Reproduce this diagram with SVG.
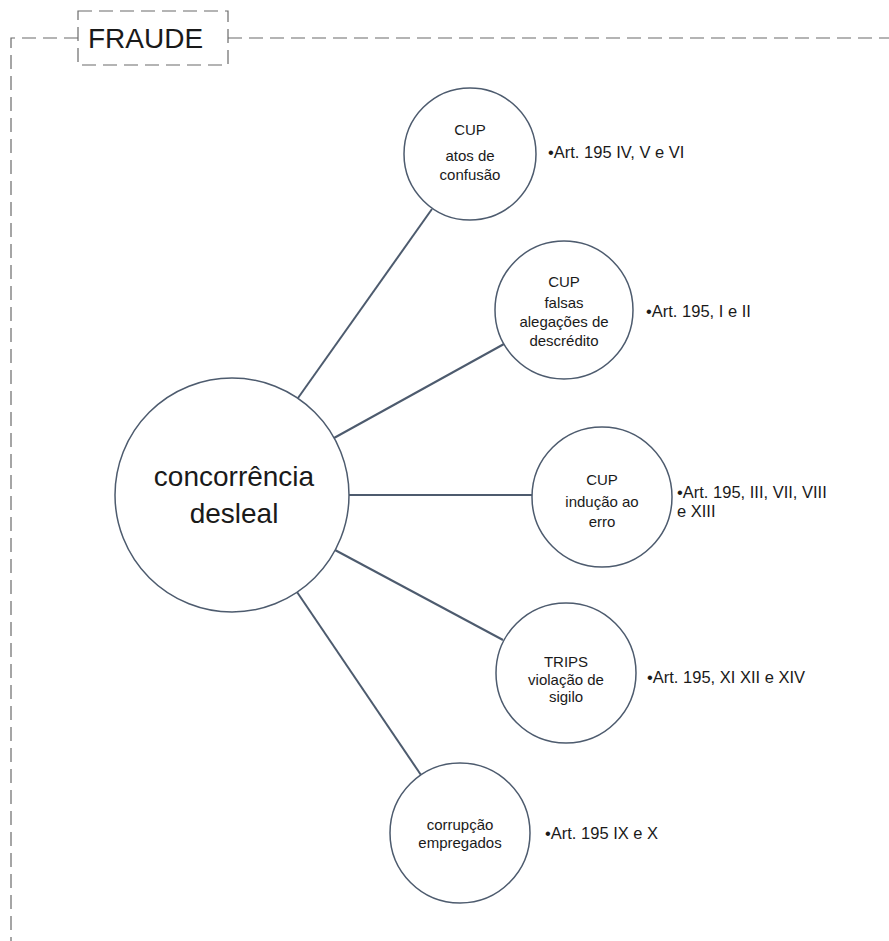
<svg xmlns="http://www.w3.org/2000/svg" width="889" height="941" viewBox="0 0 889 941">
<style>
.frame{fill:none;stroke:#6a6a6a;stroke-width:1.2;stroke-dasharray:14 7}
.node{fill:#fff;stroke:#4d5b6e;stroke-width:1.5}
.conn{stroke:#4d5b6e;stroke-width:2;fill:none}
text{font-family:"Liberation Sans",Arial,sans-serif;fill:#1a1a1a}
.t{font-size:15px;text-anchor:middle}
.b{font-size:16.5px}
.big{font-size:28px;text-anchor:middle}
</style>
<rect width="889" height="941" fill="#fff"/>
<g id="frame">
<path class="frame" d="M78 38 H11 V941"/>
<path class="frame" d="M228 38 H889"/>
<rect class="frame" x="78" y="11" width="150" height="54"/>
<text x="88" y="48" style="font-size:28px">FRAUDE</text>
</g>
<g id="connectors">
<line class="conn" x1="298" y1="398" x2="432" y2="209"/>
<line class="conn" x1="334" y1="438" x2="504" y2="344"/>
<line class="conn" x1="349" y1="495" x2="532" y2="495"/>
<line class="conn" x1="335" y1="550" x2="503" y2="640"/>
<line class="conn" x1="297" y1="592" x2="421" y2="775"/>
</g>
<g id="center">
<circle class="node" cx="232" cy="495" r="117"/>
<text class="big" x="234" y="486">concorrência</text>
<text class="big" x="234" y="523">desleal</text>
</g>
<g id="n1">
<circle class="node" cx="470" cy="154" r="66"/>
<text class="t" x="470" y="135">CUP</text>
<text class="t" x="470" y="161">atos de</text>
<text class="t" x="470" y="180">confusão</text>
<text class="b" x="548" y="158">•Art. 195 IV, V e VI</text>
</g>
<g id="n2">
<circle class="node" cx="564" cy="310" r="69"/>
<text class="t" x="564" y="287">CUP</text>
<text class="t" x="564" y="308">falsas</text>
<text class="t" x="564" y="327">alegações de</text>
<text class="t" x="564" y="346">descrédito</text>
<text class="b" x="646" y="317">•Art. 195, I e II</text>
</g>
<g id="n3">
<circle class="node" cx="602" cy="497" r="70"/>
<text class="t" x="602" y="485">CUP</text>
<text class="t" x="602" y="507">indução ao</text>
<text class="t" x="602" y="527">erro</text>
<text class="b" x="677" y="498">•Art. 195, III, VII, VIII</text>
<text class="b" x="677" y="517">e XIII</text>
</g>
<g id="n4">
<circle class="node" cx="566" cy="673" r="70"/>
<text class="t" x="566" y="667">TRIPS</text>
<text class="t" x="566" y="685">violação de</text>
<text class="t" x="566" y="702">sigilo</text>
<text class="b" x="647" y="683">•Art. 195, XI XII e XIV</text>
</g>
<g id="n5">
<circle class="node" cx="460" cy="833" r="70"/>
<text class="t" x="460" y="830">corrupção</text>
<text class="t" x="460" y="848">empregados</text>
<text class="b" x="545" y="839">•Art. 195 IX e X</text>
</g>
</svg>
